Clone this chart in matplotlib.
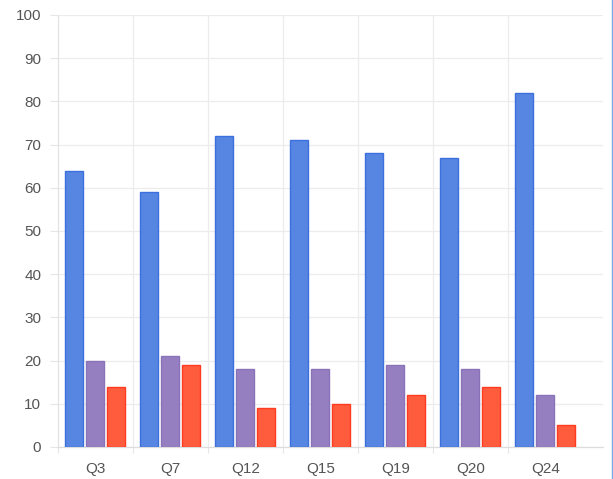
import matplotlib
matplotlib.use("Agg")
import matplotlib.pyplot as plt
from matplotlib.lines import Line2D
import numpy as np

plt.rcParams["font.family"] = ["Liberation Sans", "DejaVu Sans"]

categories = ["Q3", "Q7", "Q12", "Q15", "Q19", "Q20", "Q24"]
series_a = [64, 59, 72, 71, 68, 67, 82]
series_b = [20, 21, 18, 18, 19, 18, 12]
series_c = [14, 19, 9, 10, 12, 14, 5]
y_ticks = [0, 10, 20, 30, 40, 50, 60, 70, 80, 90, 100]

W, H = 613, 479
fig = plt.figure(figsize=(W / 100, H / 100), dpi=100)
ax = fig.add_axes([58 / W, (H - 447) / H, (603 - 58) / W, (447 - 15) / H])

x = np.arange(len(categories))
bw = 0.24
step = 0.28
styles = [
    (series_a, "#5686e1", "#3b70dd"),
    (series_b, "#967fc1", "#8a72b8"),
    (series_c, "#ff5b3d", "#ff3c20"),
]
for i, (vals, fc, ec) in enumerate(styles):
    ax.bar(x + (i - 1) * step, vals, width=bw, color=fc, edgecolor=ec,
           linewidth=1.0, zorder=3)

ax.set_xlim(-0.5, 6.77)
ax.set_ylim(0, 100)
ax.set_yticks(y_ticks)
ax.set_yticklabels([str(v) for v in y_ticks])
ax.set_xticks(x)
ax.set_xticklabels(categories)
ax.set_xticks(np.arange(-0.5, 6.0, 1.0), minor=True)

ax.tick_params(axis="y", length=6, width=0.8, color="#e6e6e6", pad=6,
               labelsize=11, labelcolor="#555555")
ax.tick_params(axis="x", which="major", length=0, pad=11,
               labelsize=11, labelcolor="#555555")
ax.tick_params(axis="x", which="minor", length=4, width=0.8, color="#e6e6e6")

for v in y_ticks:
    ax.axhline(v, color="#ececec", linewidth=0.9, zorder=0)
for b in np.arange(0.5, 6.0, 1.0):
    ax.axvline(b, color="#ececec", linewidth=0.9, zorder=0)

for s in ["top", "right"]:
    ax.spines[s].set_visible(False)
ax.spines["left"].set_color("#e3e3e3")
ax.spines["bottom"].set_color("#dddddd")
ax.spines["left"].set_linewidth(0.9)
ax.spines["bottom"].set_linewidth(0.9)

fig.add_artist(Line2D([612 / W, 612 / W], [0, 1], color="#74aae8",
                      linewidth=1.0, transform=fig.transFigure))

fig.savefig("out.png", dpi=100)
